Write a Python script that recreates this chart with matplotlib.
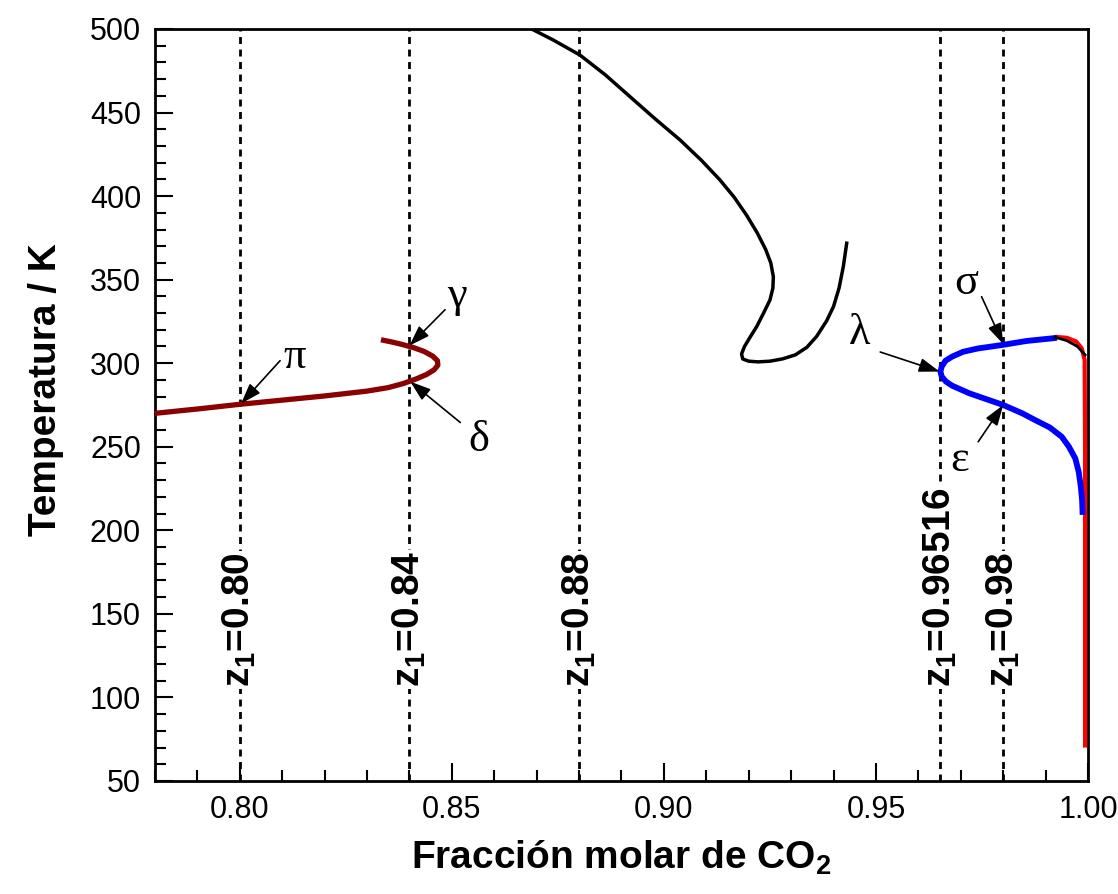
import numpy as np
import matplotlib
matplotlib.use("Agg")
from matplotlib import pyplot as plt
from matplotlib.ticker import MultipleLocator, FormatStrFormatter

plt.rcParams['font.family'] = ['Liberation Sans', 'DejaVu Sans']
plt.rcParams['mathtext.default'] = 'regular'

# dark red envelope (left)
x_red_left = [0.78, 0.79, 0.80, 0.81, 0.82, 0.83, 0.835, 0.8385, 0.8415, 0.844, 0.8458,
              0.8467, 0.8466, 0.8455, 0.8435, 0.841, 0.838, 0.836, 0.8339]
T_red_left = [270.0, 272.6, 275.4, 277.9, 280.4, 283.3, 285.4, 287.8, 290.5, 293.2, 296.0,
              298.8, 301.5, 304.2, 307.0, 309.3, 311.4, 312.6, 313.7]

# black curve (middle)
x_black = [0.8688, 0.8739, 0.8802, 0.8862, 0.892, 0.8978, 0.9038, 0.9088, 0.9132, 0.9166,
           0.9195, 0.922, 0.924, 0.9252, 0.9258, 0.9257, 0.925, 0.9235, 0.9219, 0.9203,
           0.919, 0.9183, 0.9186, 0.92, 0.9222, 0.925, 0.928, 0.931, 0.9337, 0.936,
           0.9384, 0.94, 0.9413, 0.9423, 0.9431]
T_black = [500.0, 493.4, 484.4, 472.5, 459.5, 446.5, 433.6, 421.5, 409.7, 399.2,
           388.5, 378.0, 368.0, 360.0, 351.8, 345.0, 337.8, 330.0, 322.0, 315.5,
           310.0, 305.5, 302.5, 301.2, 300.8, 301.2, 302.6, 305.0, 309.5, 316.0,
           325.5, 334.0, 345.0, 357.8, 371.8]

# blue envelope (right)
x_blue = [0.992, 0.9855, 0.98, 0.974, 0.9705, 0.968, 0.9664, 0.9655, 0.9652, 0.9655,
          0.9665, 0.968, 0.972, 0.976, 0.98, 0.9845, 0.9875, 0.991, 0.9938, 0.9955,
          0.997, 0.9978, 0.9983, 0.9986, 0.9987]
T_blue = [315.0, 313.3, 311.0, 308.8, 306.8, 304.0, 301.5, 298.0, 295.0, 292.0,
          289.0, 286.5, 282.0, 278.5, 275.0, 270.0, 266.0, 261.5, 256.0, 250.0,
          243.0, 235.0, 226.0, 218.0, 211.0]

# red branch near pure CO2
x_red = [0.9922, 0.995, 0.9972, 0.9985, 0.9992, 0.9993, 0.9993]
T_red = [315.8, 315.2, 313.0, 309.0, 302.0, 250.0, 70.0]

# short black piece near pure CO2
x_black2 = [0.9922, 0.995, 0.9975, 0.9993]
T_black2 = [315.6, 313.5, 310.0, 305.0]

z_lines = [0.80, 0.84, 0.88, 0.96516, 0.98]
z_labels = ['0.80', '0.84', '0.88', '0.96516', '0.98']

# greek labels: letter, text centre, arrow start, arrow tip
greek = [
    ('π', (0.813, 304.0), (0.8095, 301.5), (0.8003, 275.8)),
    ('γ', (0.8512, 340.0), (0.8484, 332.0), (0.8400, 310.5)),
    ('δ', (0.8563, 253.8), (0.8520, 264.5), (0.8402, 289.0)),
    ('λ', (0.9462, 317.8), (0.9510, 306.7), (0.9650, 295.0)),
    ('σ', (0.9714, 347.8), (0.9749, 339.8), (0.9800, 311.5)),
    ('ε', (0.9698, 242.0), (0.9741, 253.0), (0.9800, 275.0)),
]

fig = plt.figure(figsize=(11.18, 8.94), dpi=100)
ax = fig.add_axes([0.1386, 0.1264, 0.8346, 0.8412])

for z, lab in zip(z_lines, z_labels):
    ax.axvline(z, color='black', lw=2, linestyle=(0, (2.5, 2)), zorder=1)
    ax.text(z, 106, 'z$_1$=' + lab, rotation=90, ha='center', va='bottom',
            fontsize=28, fontweight='bold', zorder=2,
            bbox=dict(facecolor='white', edgecolor='none', pad=1))

ax.plot(x_red_left, T_red_left, color='#8b0000', lw=3.8, zorder=3, solid_joinstyle='round')
ax.plot(x_black, T_black, color='black', lw=2.5, zorder=3, solid_joinstyle='round')
ax.plot(x_red, T_red, color='red', lw=3, zorder=3, solid_capstyle='butt', solid_joinstyle='round')
ax.plot(x_blue, T_blue, color='blue', lw=4.2, zorder=4, solid_joinstyle='round')
ax.plot(x_black2, T_black2, color='black', lw=2, zorder=5)

for letter, txt, start, tip in greek:
    ax.text(txt[0], txt[1], letter, fontsize=32, family=['Liberation Serif'],
            ha='center', va='center', zorder=6)
    ax.annotate('', xy=tip, xytext=start, zorder=6,
                arrowprops=dict(arrowstyle='-|>,head_length=0.5,head_width=0.17',
                                color='black', lw=1.2, mutation_scale=25,
                                shrinkA=0, shrinkB=0))

ax.set_xlim(0.78, 1.00)
ax.set_ylim(50, 500)
ax.xaxis.set_major_locator(MultipleLocator(0.05))
ax.xaxis.set_minor_locator(MultipleLocator(0.01))
ax.xaxis.set_major_formatter(FormatStrFormatter('%.2f'))
ax.yaxis.set_major_locator(MultipleLocator(50))
ax.yaxis.set_minor_locator(MultipleLocator(10))
ax.tick_params(which='both', direction='in', width=1.5, labelsize=22, pad=10)
ax.tick_params(which='major', length=13)
ax.tick_params(which='minor', length=8)
for s in ax.spines.values():
    s.set_linewidth(2)

ax.set_xlabel('Fracción molar de CO$_2$', fontsize=28, fontweight='bold', labelpad=10)
ax.set_ylabel('Temperatura / K', fontsize=28, fontweight='bold')
ax.yaxis.set_label_coords(-0.098, 0.52)

fig.savefig('out.png', dpi=100)
